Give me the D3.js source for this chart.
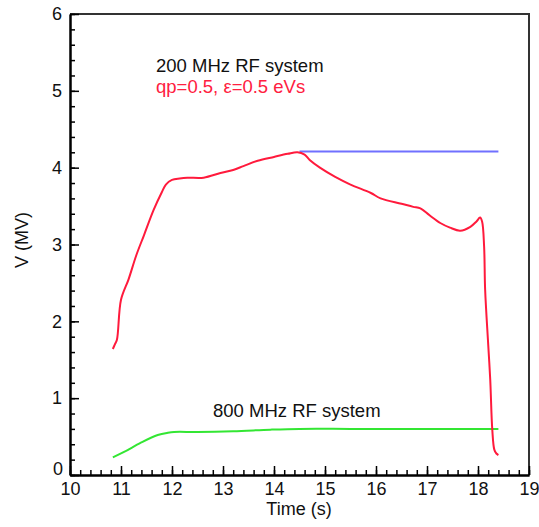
<!DOCTYPE html>
<html><head><meta charset="utf-8">
<script src="https://cdn.jsdelivr.net/npm/d3@7"></script>
<style>body{margin:0;background:#fff}svg{display:block}text{font-family:"Liberation Sans",Arial,sans-serif}</style>
</head><body>
<svg id="c" width="539" height="527"></svg>
<script>
const redT = [10.84,10.88,10.92,11.0,11.15,11.3,11.45,11.64,11.8,11.88,12.0,12.15,12.3,12.62,12.95,13.2,13.4,13.68,14.0,14.27,14.46,14.6,14.7,14.9,15.2,15.5,15.9,16.09,16.5,16.73,16.87,17.05,17.26,17.45,17.65,17.85,17.97,18.04,18.08,18.12,18.14,18.2,18.24,18.28,18.32,18.36,18.4];
const redV = [1.64,1.70,1.76,2.28,2.55,2.86,3.12,3.45,3.68,3.78,3.84,3.86,3.87,3.87,3.93,3.97,4.02,4.09,4.14,4.18,4.20,4.17,4.10,4.00,3.88,3.78,3.67,3.60,3.53,3.49,3.47,3.38,3.28,3.22,3.18,3.23,3.30,3.35,3.30,2.97,2.41,1.70,1.24,0.59,0.33,0.28,0.26];
const greenT = [10.84,11.06,11.39,11.72,11.92,12.04,12.5,13.2,13.93,14.5,15.5,16.5,17.5,18.4];
const greenV = [0.23,0.30,0.42,0.52,0.55,0.56,0.56,0.57,0.59,0.60,0.60,0.60,0.60,0.60];
const blueT = [14.5,18.4];
const blueV = [4.21,4.21];
const xTicks = [10,11,12,13,14,15,16,17,18,19];
const yTicks = [0,1,2,3,4,5,6];

const svg = d3.select("#c");
const box = {left:70, right:529, top:14, bottom:475};
const x = d3.scaleLinear().domain([10,19]).range([box.left,box.right]);
const y = d3.scaleLinear().domain([0,6]).range([box.bottom,box.top]);

// frame (top and right)
svg.append("path")
  .attr("d",`M${box.left},${box.top}L${box.right},${box.top}L${box.right},${box.bottom}`)
  .style("fill","none").style("stroke","#333").style("stroke-width","2px");

function styleAxis(g){
  g.select(".domain").style("stroke","#000").style("stroke-width","2px");
  g.selectAll(".tick line").style("stroke","#000").style("stroke-width","1.5px");
}

// bottom axis
const minorX = d3.range(10,19.001,0.2).map(v=>+v.toFixed(1));
const gx = svg.append("g").attr("transform",`translate(0,${box.bottom})`)
  .call(d3.axisBottom(x).tickValues(minorX).tickSize(-5).tickSizeOuter(0).tickFormat(""));
styleAxis(gx);
const gx2 = svg.append("g").attr("transform",`translate(0,${box.bottom})`)
  .call(d3.axisBottom(x).tickValues(xTicks).tickSize(-9).tickSizeOuter(0).tickPadding(6).tickFormat(d3.format("d")));
styleAxis(gx2);
gx2.selectAll(".tick text").attr("font-size",18).attr("fill","#111").attr("y",7).attr("dy","0.71em");

// left axis
const minorY = d3.range(0,6.001,0.2).map(v=>+v.toFixed(1));
const gy = svg.append("g").attr("transform",`translate(${box.left},0)`)
  .call(d3.axisLeft(y).tickValues(minorY).tickSize(-5).tickSizeOuter(0).tickFormat(""));
styleAxis(gy);
const gy2 = svg.append("g").attr("transform",`translate(${box.left},0)`)
  .call(d3.axisLeft(y).tickValues(yTicks).tickSize(-9).tickSizeOuter(0).tickPadding(8).tickFormat(d3.format("d")));
styleAxis(gy2);
gy2.selectAll(".tick text").attr("font-size",18).attr("fill","#111").attr("x",-8);
gy2.selectAll(".tick").filter(d=>d===0).select("text").attr("dy","-0.05em").attr("x",-7);

// labels
svg.append("text").attr("x",299).attr("y",515).attr("text-anchor","middle").attr("font-size",18).attr("fill","#111").text("Time (s)");
svg.append("text").attr("transform","translate(28,240) rotate(-90)").attr("text-anchor","middle").attr("font-size",18).attr("fill","#111").text("V (MV)");

const line = d3.line().x(d=>x(d[0])).y(d=>y(d[1])).curve(d3.curveCatmullRom.alpha(0.5));
const draw=(ts,vs,c)=>svg.append("path").datum(ts.map((t,i)=>[t,vs[i]])).attr("d",line).style("fill","none").style("stroke",c).style("stroke-width","2px").style("stroke-linejoin","round");
draw(blueT,blueV,"#7070ff");
draw(greenT,greenV,"#33e633");
draw(redT,redV,"#ff1a3c");

svg.append("text").attr("x",156).attr("y",72).attr("font-size",18.5).attr("fill","#111").text("200 MHz RF system");
svg.append("text").attr("x",156).attr("y",93).attr("font-size",18.5).attr("fill","#ff2040").text("qp=0.5, ε=0.5 eVs");
svg.append("text").attr("x",213).attr("y",417).attr("font-size",18.5).attr("fill","#111").text("800 MHz RF system");
</script>
</body></html>
